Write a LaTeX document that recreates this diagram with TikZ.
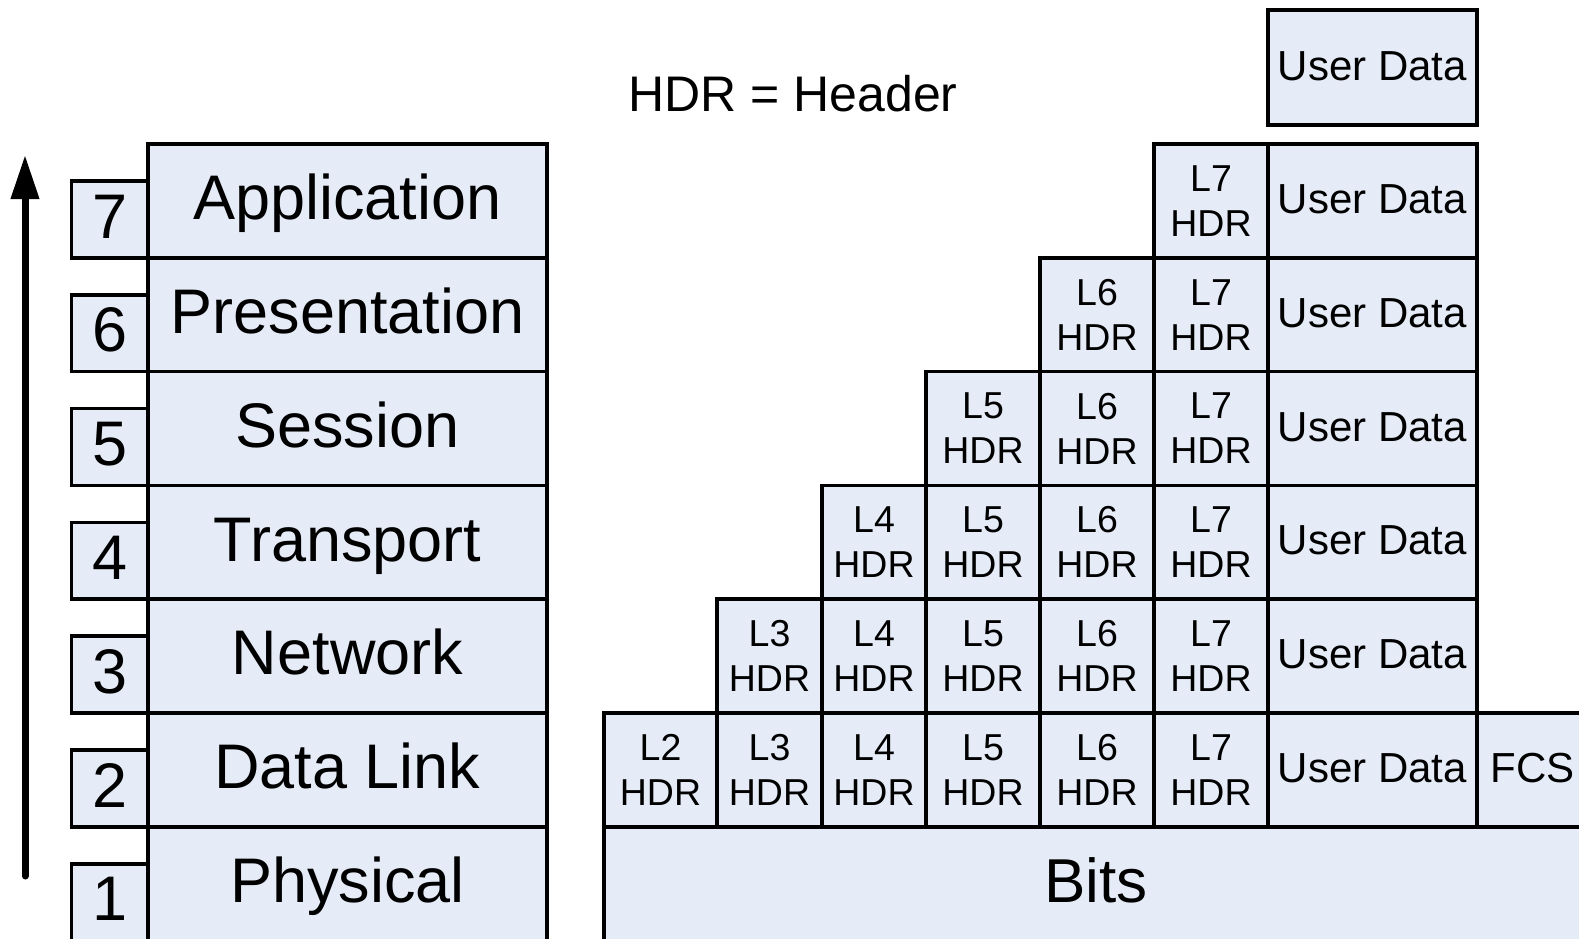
\documentclass[tikz,border=0pt]{standalone}
\usepackage{fontspec}
\setmainfont{Liberation Sans}
\usetikzlibrary{arrows.meta}
\definecolor{boxfill}{RGB}{229,236,247}
\tikzset{
  cell/.style={draw, fill=boxfill, line width=3.5pt, inner sep=0pt, minimum height=113.8pt},
  layerbox/.style={cell, minimum width=399pt, font=\fontsize{63}{70}\selectfont, text height=50pt, text depth=12.6pt},
  numbox/.style={draw, fill=boxfill, line width=3.5pt, inner sep=0pt, minimum width=76.5pt, minimum height=76.8pt, font=\fontsize{63}{70}\selectfont, text height=50pt, text depth=12.6pt},
  hdrbox/.style={cell, align=center, font=\fontsize{37.5}{45}\selectfont},
  databox/.style={cell, font=\fontsize{42}{48}\selectfont, text height=33.6pt, text depth=8.4pt},
}
\begin{document}
\begin{tikzpicture}[x=1pt, y=-1pt]
  \useasboundingbox (0,0) rectangle (1579,938);
  \clip (0,0) rectangle (1579,938);

  % layer stack
  \foreach \n/\name in {7/Application, 6/Presentation, 5/Session, 4/Transport, 3/Network, 2/Data Link, 1/Physical} {
    \node[numbox] (num\n) at (109.75, {144+(7-\n)*113.8+75.4}) {\n};
    \node[layerbox] (layer\n) at (347.5, {144+(7-\n)*113.8+56.9}) {\name};
  }
  \coordinate (arrowfoot) at (25, 876);
  \coordinate (arrowtip) at (25, 155);
  \draw[line width=7pt, line cap=round, -{Triangle[length=44pt, width=27pt]}] (arrowfoot) -- (arrowtip);

  \node[font=\fontsize{50}{60}\selectfont] (legend) at (793, 94) {HDR = Header};

  % encapsulation
  \node[databox, minimum width=209pt, minimum height=115pt] (data) at (1372.5, 67.5) {User Data};
  \foreach \r in {7,...,2} {
    \foreach \k/\l/\rt in {2/604/717, 3/717/822, 4/822/926, 5/926/1040, 6/1040/1154, 7/1154/1268} {
      \ifnum\k<\r\else
        \node[hdrbox, minimum width={\rt-\l}] (hdr\r\k) at ({(\l+\rt)/2}, {144+(7-\r)*113.8+56.9}) {L\k\\HDR};
      \fi
    }
    \node[databox, minimum width=209pt] (data\r) at (1372.5, {144+(7-\r)*113.8+56.9}) {User Data};
  }
  \node[databox, minimum width=111pt] (fcs) at (1532.5, {144+5*113.8+56.9}) {FCS};
  \node[cell, minimum width=984pt, font=\fontsize{62}{70}\selectfont, text height=49.6pt, text depth=12.4pt] (bits) at (1096, {144+6*113.8+56.9}) {Bits};
\end{tikzpicture}
\end{document}
